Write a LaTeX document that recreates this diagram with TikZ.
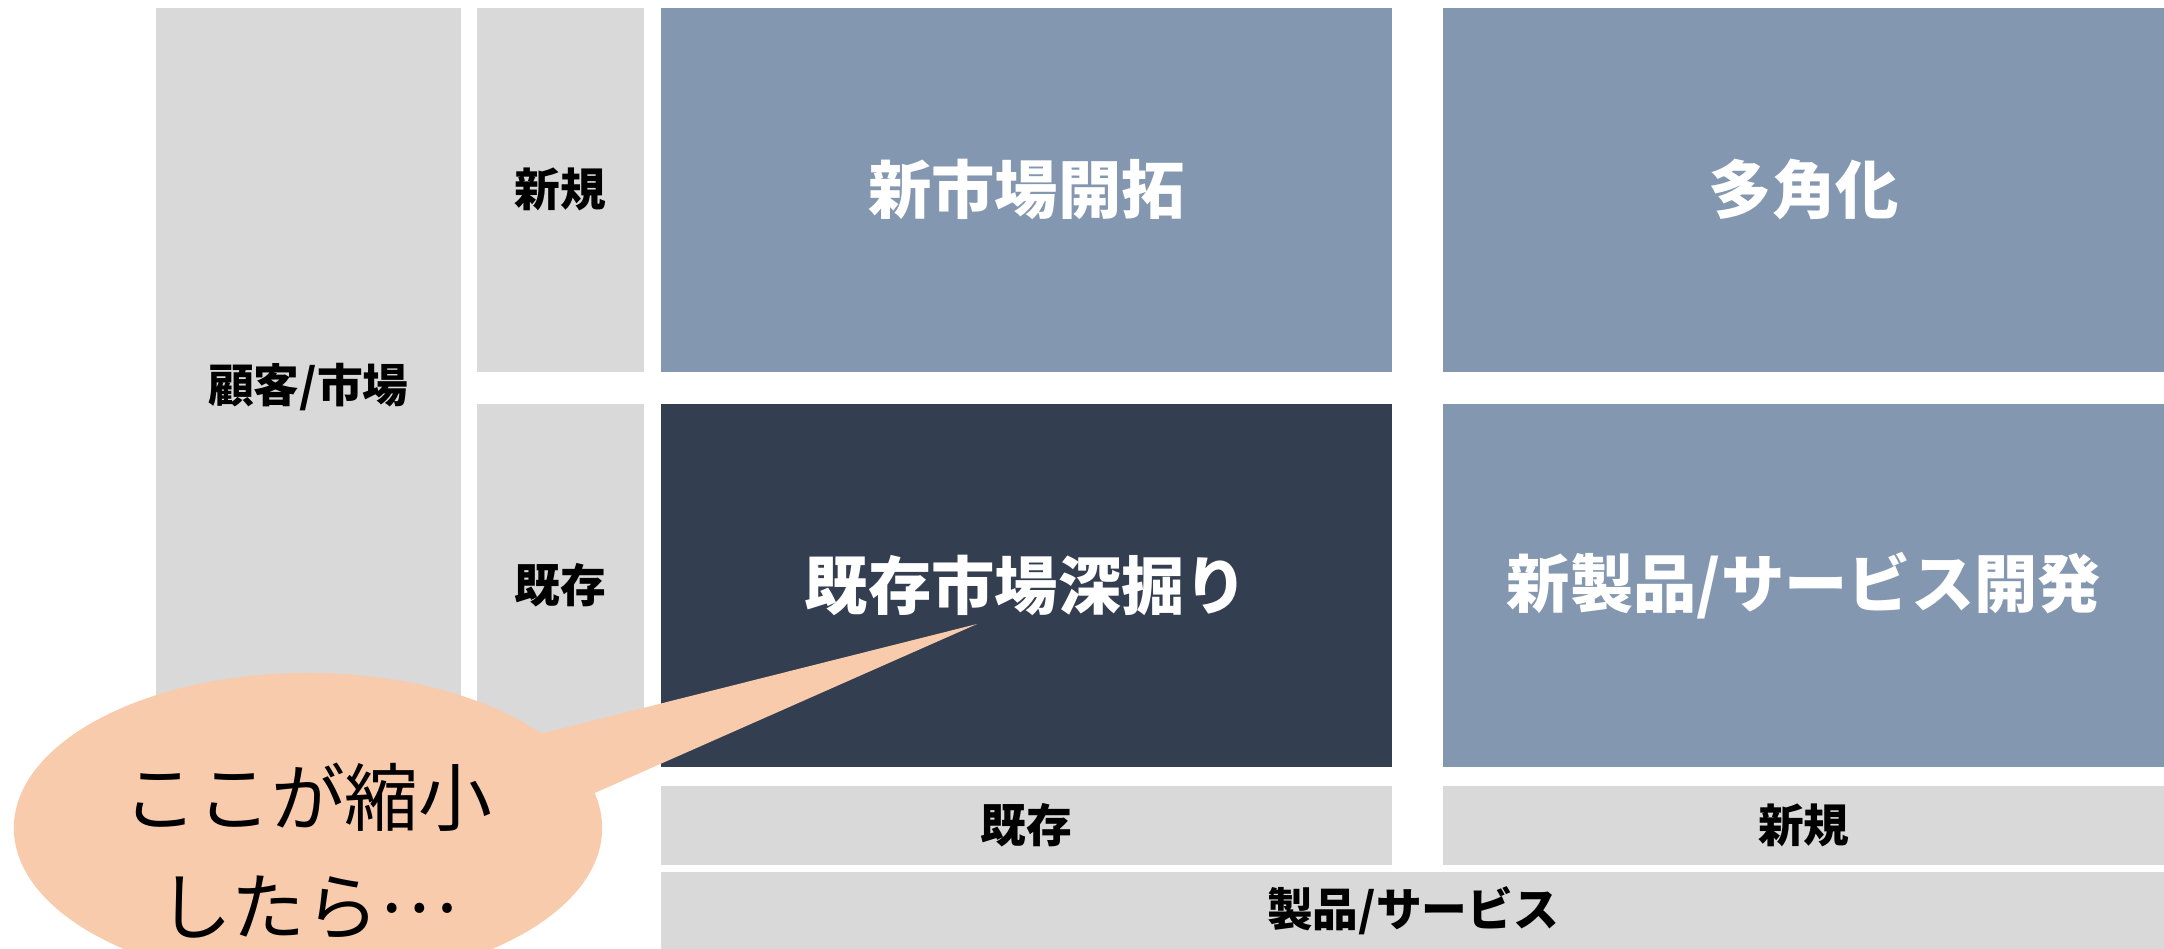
\documentclass[tikz,border=0pt]{standalone}
\usepackage{fontspec}
\setmainfont{Noto Sans CJK JP}
\usetikzlibrary{shapes.geometric, positioning}
\definecolor{cellgray}{HTML}{D9D9D9}
\definecolor{cellblue}{HTML}{8497B0}
\definecolor{celldark}{HTML}{333F50}
\definecolor{bubblefill}{HTML}{F8CBAD}
\tikzset{
    axiscell/.style={
           rectangle,
           fill=cellgray, draw=none,
           inner sep=0pt,
           anchor=north west,
           text=black,
           font=\bfseries\fontsize{13pt}{16pt}\selectfont,
           },
    strategy/.style={
           rectangle,
           fill=cellblue, draw=none,
           inner sep=0pt,
           anchor=north west,
           text=white,
           font=\bfseries\fontsize{18pt}{22pt}\selectfont,
           },
    bubble/.style={
           ellipse,
           fill=bubblefill, draw=none,
           inner sep=0pt,
           },
}

\begin{document}
\begin{tikzpicture}[x=0.01cm, y=-0.01cm]
  \useasboundingbox (0,0) rectangle (2164,948);
  \clip (0,0) rectangle (2164,948);

% axis labels: customer / market
  \node[axiscell, minimum width=3.05cm, minimum height=7.59cm]   (Market)    at (155,7)   {顧客/市場};
  \node[axiscell, minimum width=1.67cm, minimum height=3.64cm]   (MarketNew) at (476,7)   {新規};
  \node[axiscell, minimum width=1.67cm, minimum height=3.63cm]   (MarketOld) at (476,403) {既存};

% the four strategies
  \node[strategy, minimum width=7.31cm, minimum height=3.64cm]   (Development)   at (660,7)    {新市場開拓};
  \node[strategy, minimum width=7.22cm, minimum height=3.64cm]   (Diversify)     at (1442,7)   {多角化};
  \node[strategy, fill=celldark, minimum width=7.31cm, minimum height=3.63cm] (Penetration) at (660,403) {既存市場深掘り};
  \node[strategy, minimum width=7.22cm, minimum height=3.63cm]   (NewProduct)    at (1442,403) {新製品/サービス開発};

% axis labels: product / service
  \node[axiscell, minimum width=7.31cm, minimum height=0.79cm]   (ProductOld) at (660,785)  {既存};
  \node[axiscell, minimum width=7.22cm, minimum height=0.79cm]   (ProductNew) at (1442,785) {新規};
  \node[axiscell, minimum width=15.04cm, minimum height=0.77cm]  (Product)    at (660,871)  {製品/サービス};

% speech bubble pointing at Penetration
  \coordinate (Tip) at (977,624);
  \node[bubble, minimum width=5.88cm, minimum height=3.10cm]     (Bubble) at (308,828) {};
  \fill[bubblefill] (Bubble.22) -- (Tip) -- (Bubble.7) -- (Bubble.center) -- cycle;
  \node[align=center, font=\fontsize{21pt}{31pt}\selectfont]     (BubbleText) at (308,851) {ここが縮小\\したら\raisebox{0.3em}{…}};

\end{tikzpicture}
\end{document}
